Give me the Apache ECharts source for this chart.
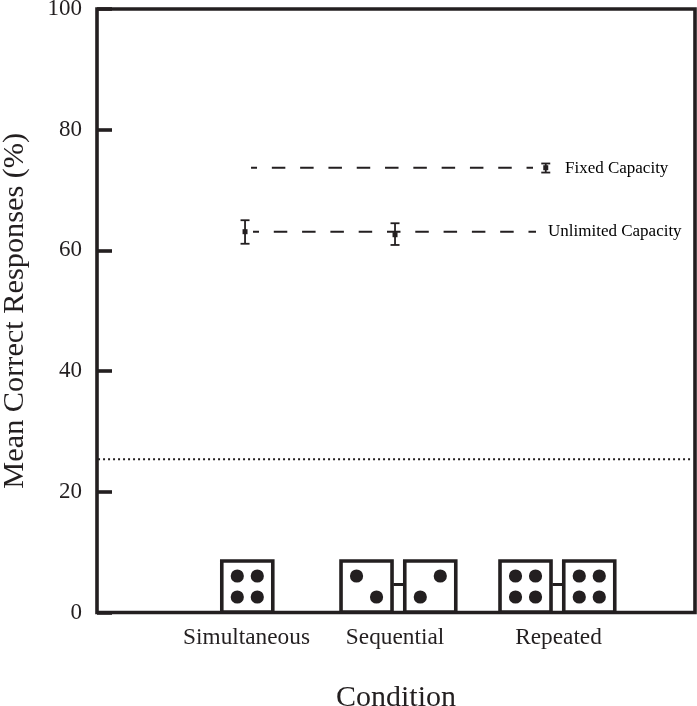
<!DOCTYPE html>
<html>
<head>
<meta charset="utf-8">
<style>
  html, body { margin: 0; padding: 0; background: #fff; }
  #main { width: 697px; height: 706px; }
</style>
<script src="https://cdn.jsdelivr.net/npm/echarts@6/dist/echarts.min.js"></script>
</head>
<body>
<div id="main"></div>
<script>
var conditions = ['Simultaneous', 'Sequential', 'Repeated'];
var conditionLabelX = [1.01, 2, 3.09];
var yTicks = [0, 20, 40, 60, 80, 100];

// x, mean, low, high
var unlimitedPoints = [[1, 63.1, 61.1, 65.0], [2, 62.6, 60.9, 64.5]];
var fixedPoints = [[3.005, 73.7, 72.9, 74.4]];

var fixedLine = [[1.04, 73.7], [2.92, 73.7]];
var unlimitedLine = [[1.053, 63.1], [2.94, 63.1]];
var chanceLine = [[0.02, 25.4], [3.98, 25.4]];

var annotations = [[3.133, 73.6, 'Fixed Capacity'], [3.02, 63.05, 'Unlimited Capacity']];

// die centre x, which pips are on
var dice = [
  [1.015, 'four'],
  [1.81, 'fall'],
  [2.235, 'rise'],
  [2.87, 'four'],
  [3.295, 'four']
];
var diceLinks = [[2.0225], [3.0825]];

var INK = '#231f20';
var FONT = '"Liberation Serif", serif';

var pipLayouts = {
  four: [[-10, -10.5], [10, -10.5], [-10, 10.5], [10, 10.5]],
  fall: [[-10, -10.5], [10, 10.5]],
  rise: [[10, -10.5], [-10, 10.5]]
};

function renderDie(params, api) {
  var base = api.coord([api.value(0), 0]);
  var cx = base[0];
  var size = 51;
  var cy = base[1] - size / 2 - 0.5;
  var children = [{
    type: 'rect',
    shape: { x: cx - size / 2, y: cy - size / 2, width: size, height: size },
    style: { fill: '#fff', stroke: INK, lineWidth: 3.6 }
  }];
  pipLayouts[dice[params.dataIndex][1]].forEach(function (p) {
    children.push({
      type: 'circle',
      shape: { cx: cx + p[0], cy: cy + p[1], r: 6.6 },
      style: { fill: INK }
    });
  });
  return { type: 'group', children: children };
}

function renderLink(params, api) {
  var base = api.coord([api.value(0), 0]);
  return {
    type: 'line',
    shape: { x1: base[0] - 5, y1: base[1] - 28, x2: base[0] + 5, y2: base[1] - 28 },
    style: { stroke: INK, lineWidth: 3 }
  };
}

function renderError(params, api) {
  var x = api.value(0);
  var mid = api.coord([x, api.value(1)]);
  var lo = api.coord([x, api.value(2)]);
  var hi = api.coord([x, api.value(3)]);
  var s = { stroke: INK, lineWidth: 1.8 };
  return {
    type: 'group',
    children: [
      { type: 'line', shape: { x1: lo[0], y1: lo[1], x2: hi[0], y2: hi[1] }, style: s },
      { type: 'line', shape: { x1: lo[0] - 4.5, y1: lo[1], x2: lo[0] + 4.5, y2: lo[1] }, style: s },
      { type: 'line', shape: { x1: hi[0] - 4.5, y1: hi[1], x2: hi[0] + 4.5, y2: hi[1] }, style: s },
      { type: 'rect', shape: { x: mid[0] - 2.5, y: mid[1] - 2.5, width: 5, height: 5 }, style: { fill: INK } }
    ]
  };
}

function dashedLine(data, dash, offset, width) {
  return {
    type: 'line',
    data: data,
    symbol: 'none',
    silent: true,
    lineStyle: { color: INK, width: width, type: dash, dashOffset: offset }
  };
}

var myChart = echarts.init(document.getElementById('main'), null, { renderer: 'canvas' });

myChart.setOption({
  animation: false,
  backgroundColor: '#fff',
  grid: {
    left: 97, top: 9, width: 598, height: 603.5,
    outerBoundsMode: 'none',
    show: true, borderWidth: 3.6, borderColor: INK, backgroundColor: 'transparent'
  },
  xAxis: {
    type: 'value',
    min: 0.013,
    max: 4,
    splitLine: { show: false },
    axisLine: { show: false },
    axisTick: { show: false },
    axisLabel: {
      customValues: conditionLabelX,
      formatter: function (v) { return conditions[conditionLabelX.indexOf(v)]; },
      color: INK, fontFamily: FONT, fontSize: 23.3, margin: 14
    },
    name: 'Condition',
    nameLocation: 'middle',
    nameGap: 71,
    nameTextStyle: { color: INK, fontFamily: FONT, fontSize: 30 }
  },
  yAxis: {
    type: 'value',
    min: 0,
    max: 100,
    interval: 20,
    splitLine: { show: false },
    axisLine: { show: false },
    axisTick: { show: true, inside: true, length: 15, lineStyle: { color: INK, width: 3.6 } },
    axisLabel: {
      customValues: yTicks,
      color: INK, fontFamily: FONT, fontSize: 23, margin: 15
    },
    name: 'Mean Correct Responses (%)',
    nameLocation: 'middle',
    nameGap: 67,
    nameTextStyle: { color: INK, fontFamily: FONT, fontSize: 30.3 }
  },
  series: [
    dashedLine(chanceLine, [2, 3], 0, 2),
    dashedLine(fixedLine, [13.5, 14.8], 7.5, 2),
    dashedLine(unlimitedLine, [13.5, 14.8], 7.5, 2),
    { type: 'custom', renderItem: renderError, data: unlimitedPoints, silent: true, z: 4 },
    { type: 'custom', renderItem: renderError, data: fixedPoints, silent: true, z: 4 },
    { type: 'custom', renderItem: renderLink, data: diceLinks, silent: true, z: 4 },
    {
      type: 'custom',
      renderItem: renderDie,
      data: dice.map(function (d) { return [d[0]]; }),
      clip: false,
      silent: true,
      z: 5
    },
    {
      type: 'scatter',
      symbolSize: 0,
      silent: true,
      data: annotations.map(function (a) { return { value: [a[0], a[1]], name: a[2] }; }),
      label: {
        show: true,
        position: 'right',
        distance: 0,
        formatter: '{b}',
        color: '#000',
        opacity: 1,
        fontFamily: FONT,
        fontSize: 17
      }
    }
  ]
});

window.PieChart = myChart;
</script>
</body>
</html>
